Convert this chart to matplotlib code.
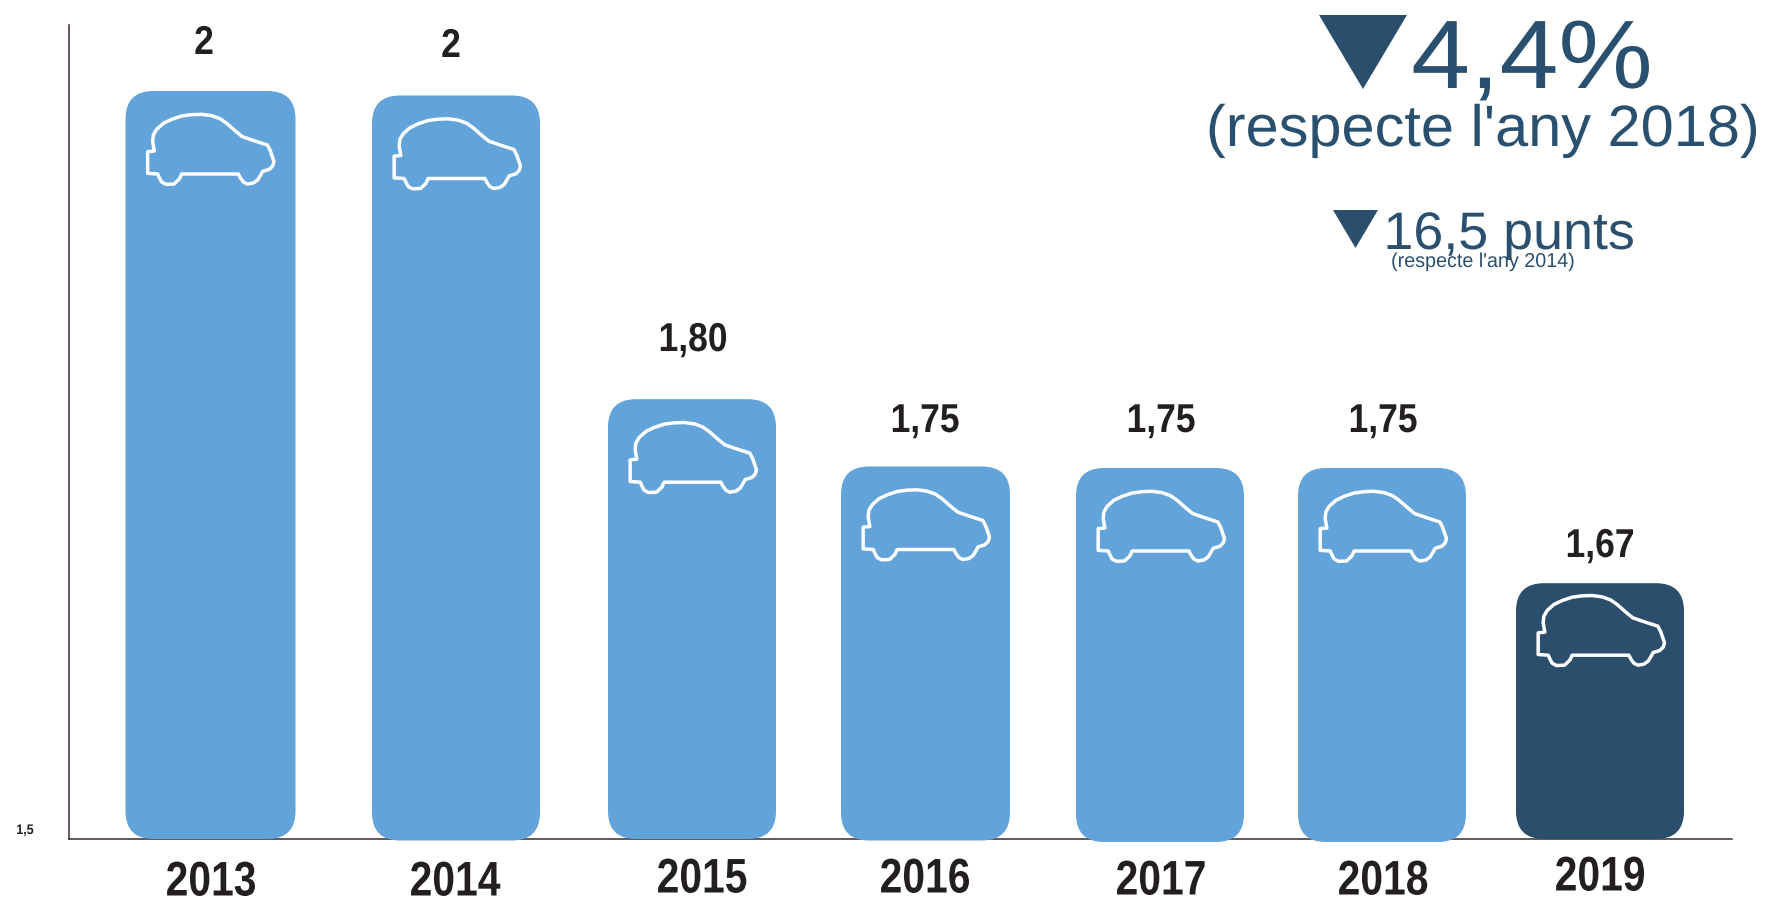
#!/usr/bin/env python3
import matplotlib
matplotlib.use('Agg')
import matplotlib.pyplot as plt
from matplotlib.patches import FancyBboxPatch, Polygon
from matplotlib.patheffects import AbstractPathEffect
from matplotlib.transforms import Affine2D

# ── Data ──────────────────────────────────────────────────────────────────
years = ['2013', '2014', '2015', '2016', '2017', '2018', '2019']
value_labels = ['2', '2', '1,80', '1,75', '1,75', '1,75', '1,67']
bar_tops = [2.000, 1.997, 1.794, 1.749, 1.748, 1.748, 1.671]
bar_bottoms = [1.5, 1.499, 1.5, 1.499, 1.498, 1.498, 1.5]

WIDTH, HEIGHT = 1769, 902
AX_LEFT, AX_RIGHT, AX_TOP, AX_BOTTOM = 68.5, 1732, 25, 839
PX_PER_UNIT = 1496.0  # pixels per one unit of the value axis

# bar edges on the x axis (axis runs in pixel-like units)
bar_left = [125.5, 372, 608, 841, 1076, 1298, 1516]
bar_right = [295.5, 540, 776, 1010, 1244, 1466, 1684]
BAR_RADIUS = 28

# label anchors in figure pixels
value_xy = [(204, 43), (451, 46), (693, 340), (925, 421), (1161, 421), (1383, 421), (1600, 546)]
year_xy = [(211, 883), (455, 883), (702, 880), (925, 880), (1161, 882), (1383, 882), (1600, 878)]

# car outline traced at 3x, offset from the bar's top left corner
car_x = [113, 133, 128, 130, 140, 160, 185, 215, 245, 275, 305, 330, 350, 375,
         397, 435, 472, 480, 487, 492, 488, 478, 458, 452, 443, 430, 412, 400,
         392, 385, 215, 208, 192, 168, 155, 148, 143, 113]
car_y = [215, 213, 185, 165, 148, 130, 118, 108, 104, 103, 107, 116, 130, 152,
         170, 183, 195, 210, 230, 245, 258, 268, 274, 285, 300, 309, 312, 306,
         295, 282, 282, 297, 312, 313, 306, 293, 282, 280]
car_dy = [0, 0, 0, 0, 0, 0, -11]

LIGHT = '#62A3D9'
DARK = '#2A4E6B'
TEXT = '#231F20'
BLUE_TEXT = '#2A5070'
AXIS = '#3A2A30'
SANS = 'Liberation Sans'


class ScaleX(AbstractPathEffect):
    """Stretch or squeeze a text sideways around its anchor (no narrow font here)."""

    def __init__(self, cx, sx):
        super().__init__()
        self.cx = cx
        self.sx = sx

    def draw_path(self, renderer, gc, tpath, affine, rgbFace=None):
        squeeze = Affine2D().translate(-self.cx, 0).scale(self.sx, 1).translate(self.cx, 0)
        renderer.draw_path(gc, tpath, affine + squeeze, rgbFace)


def fx(x):
    return x / WIDTH


def fy(y):
    return 1 - y / HEIGHT


def val_y(py):
    # figure pixel row -> value on the y axis
    return 1.5 + (AX_BOTTOM - py) / PX_PER_UNIT


def put_text(x, y, s, size, sx, color, weight='normal', va='baseline'):
    fig.text(fx(x), fy(y), s, ha='center', va=va, color=color, family=SANS,
             weight=weight, fontsize=size, path_effects=[ScaleX(x, sx)])


fig = plt.figure(figsize=(WIDTH / 100, HEIGHT / 100), dpi=100, facecolor='white')
ax = fig.add_axes([fx(AX_LEFT), fy(AX_BOTTOM), (AX_RIGHT - AX_LEFT) / WIDTH,
                   (AX_BOTTOM - AX_TOP) / HEIGHT])
ax.set_xlim(AX_LEFT, AX_RIGHT)
ax.set_ylim(1.5, val_y(AX_TOP))
ax.set_xticks([])
ax.set_yticks([])
ax.spines['top'].set_visible(False)
ax.spines['right'].set_visible(False)
for side in ['left', 'bottom']:
    ax.spines[side].set_color(AXIS)
    ax.spines[side].set_linewidth(1.1)
    ax.spines[side].set_zorder(1)

# ── Bars and car icons ────────────────────────────────────────────────────
for i in range(len(years)):
    color = DARK if years[i] == '2019' else LIGHT
    box = FancyBboxPatch((bar_left[i], bar_bottoms[i]),
                         bar_right[i] - bar_left[i],
                         bar_tops[i] - bar_bottoms[i],
                         boxstyle=f'round,pad=0,rounding_size={BAR_RADIUS}',
                         mutation_aspect=1 / PX_PER_UNIT,
                         facecolor=color, edgecolor='none', zorder=2,
                         clip_on=False)
    ax.add_patch(box)
    pts = [(bar_left[i] + x / 3 - 15.5,
            bar_tops[i] - (y / 3 - 11 + car_dy[i]) / PX_PER_UNIT)
           for x, y in zip(car_x, car_y)]
    ax.add_patch(Polygon(pts, closed=True, fill=False, edgecolor='white',
                         linewidth=2.5, joinstyle='round', zorder=3))

# ── Labels ────────────────────────────────────────────────────────────────
for label, (x, y) in zip(value_labels, value_xy):
    put_text(x, y, label, 29, 0.88, TEXT, weight='bold', va='center')
for label, (x, y) in zip(years, year_xy):
    put_text(x, y, label, 35, 0.84, TEXT, weight='bold', va='center')
put_text(25, 830, '1,5', 10, 0.9, TEXT, weight='bold', va='center')

# ── Top right call-out ────────────────────────────────────────────────────
for tri in [[(1319, 15), (1407, 15), (1363, 89)],
            [(1333, 210), (1378, 210), (1355.5, 248)]]:
    fig.add_artist(Polygon([(fx(x), fy(y)) for x, y in tri], closed=True,
                           transform=fig.transFigure, facecolor=DARK,
                           edgecolor='none'))

put_text(1532, 88, '4,4%', 70, 1.09, BLUE_TEXT)
put_text(1483, 146, "(respecte l'any 2018)", 42, 1.02, BLUE_TEXT)
put_text(1509, 249, '16,5 punts', 38, 1.02, BLUE_TEXT)
put_text(1483, 267, "(respecte l'any 2014)", 14.5, 0.98, BLUE_TEXT)

plt.savefig('out.png', dpi=100, facecolor='white')
plt.close()
